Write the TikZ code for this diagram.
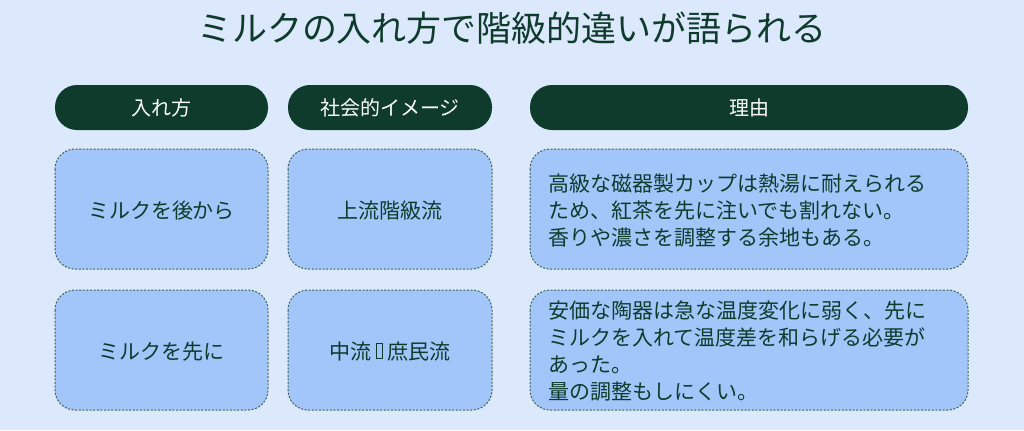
\documentclass[tikz,border=0pt]{standalone}
\usepackage{fontspec}
\setmainfont{Noto Sans CJK JP}
\definecolor{bg}{HTML}{DCE8FB}
\definecolor{dg}{HTML}{0E3B2C}
\definecolor{cell}{HTML}{A2C6FA}
\newcommand{\tofu}{\raisebox{0.05em}{\tikz\draw[dg,line width=0.4pt](0,0)rectangle(0.32em,0.72em);}}
\begin{document}
\begin{tikzpicture}[x=0.5pt,y=-0.5pt,
 hdr/.style={fill=dg,rounded corners=11pt,text=white,font=\fontsize{10}{12}\selectfont},
 cellbox/.style={fill=cell,draw=dg!80,dashed,dash pattern=on 1pt off 0.8pt,line width=0.5pt,rounded corners=10pt},
 ctext/.style={text=dg,font=\fontsize{10.5}{13.5}\selectfont}]
\fill[bg] (0,0) rectangle (1024,430);
\useasboundingbox (0,0) rectangle (1024,430);
\node[text=dg,font=\fontsize{17.5}{20}\selectfont] (title) at (512,28) {ミルクの入れ方で階級的違いが語られる};
% headers
\fill[hdr] (55,85) rectangle (268,130); \node[hdr,fill=none] (h1) at (161.5,107.5) {入れ方};
\fill[hdr] (288,85) rectangle (492,130); \node[hdr,fill=none] (h2) at (390,107.5) {社会的イメージ};
\fill[hdr] (530,85) rectangle (968,130); \node[hdr,fill=none] (h3) at (749,107.5) {理由};
% row 1
\draw[cellbox] (55,149) rectangle (268,269); \node[ctext] (a1) at (161.5,211) {ミルクを後から};
\draw[cellbox] (288,149) rectangle (492,269); \node[ctext] (b1) at (390,211) {上流階級流};
\draw[cellbox] (530,149) rectangle (968,269);
\node[ctext,anchor=north west,align=left,inner sep=0] (c1) at (548,173) {高級な磁器製カップは熱湯に耐えられる\\ため、紅茶を先に注いでも割れない。\\香りや濃さを調整する余地もある。};
% row 2
\draw[cellbox] (55,290) rectangle (268,410); \node[ctext] (a2) at (161.5,352) {ミルクを先に};
\draw[cellbox] (288,290) rectangle (492,410); \node[ctext] (b2) at (390,352) {中流 \tofu\ 庶民流};
\draw[cellbox] (530,290) rectangle (968,410);
\node[ctext,anchor=north west,align=left,inner sep=0] (c2) at (548,300) {安価な陶器は急な温度変化に弱く、先に\\ミルクを入れて温度差を和らげる必要が\\あった。\\量の調整もしにくい。};
\end{tikzpicture}
\end{document}
